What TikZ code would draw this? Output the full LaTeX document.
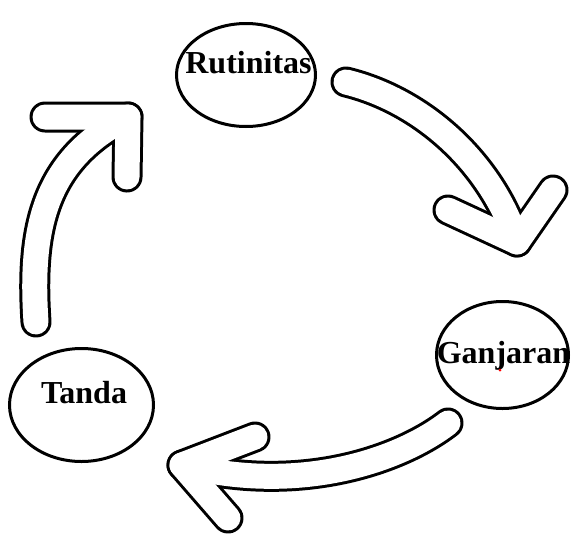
\documentclass[tikz,border=0pt]{standalone}
\usepackage{fontspec}
\setmainfont{Liberation Serif}
\usetikzlibrary{shapes.geometric}
\begin{document}
\begin{tikzpicture}[x=1pt,y=-1pt,
  oval/.style={ellipse,draw=black,line width=3pt,inner sep=0pt},
  lbl/.style={font=\bfseries\fontsize{32}{32}\selectfont,anchor=base,inner sep=0pt},
  arrowout/.style={draw=black,line width=31pt,line cap=round,line join=round},
  arrowin/.style={draw=white,line width=25pt,line cap=round,line join=round}]
\useasboundingbox[fill=white] (0,0) rectangle (576,536);

% ellipses
\node[oval,minimum width=139pt,minimum height=103pt] (rut) at (246,75) {};
\node[oval,minimum width=132pt,minimum height=107pt] (gan) at (502.5,355) {};
\node[oval,minimum width=144pt,minimum height=113pt] (tan) at (81.5,405) {};

% labels
\node[lbl] (rutl) at (248.5,73) {Rutinitas};
\node[lbl] (ganl) at (503.5,363) {Ganjaran};
\node[lbl] (tanl) at (84,403) {Tanda};
\fill[red] (500,370) circle (1.5);

% arrow coordinates
\coordinate (a1t) at (346,82);
\coordinate (a1c1) at (420,100);
\coordinate (a1c2) at (490,160);
\coordinate (a1p) at (517,242);
\coordinate (a1b1) at (448,210);
\coordinate (a1b2) at (553,190);

\coordinate (a2t) at (448,423);
\coordinate (a2c1) at (400,460);
\coordinate (a2c2) at (300,495);
\coordinate (a2p) at (182,465);
\coordinate (a2b1) at (255,437);
\coordinate (a2b2) at (228,518);

\coordinate (a3t) at (36,322);
\coordinate (a3c1) at (30,230);
\coordinate (a3c2) at (43,160);
\coordinate (a3p) at (128,117);
\coordinate (a3b1) at (45,117);
\coordinate (a3b2) at (127,177);

% outlines
\foreach \a in {a1,a2,a3}{
  \draw[arrowout] (\a t) .. controls (\a c1) and (\a c2) .. (\a p);
  \draw[arrowout] (\a b1) -- (\a p) -- (\a b2);
}
% interiors
\foreach \a in {a1,a2,a3}{
  \draw[arrowin] (\a t) .. controls (\a c1) and (\a c2) .. (\a p);
  \draw[arrowin] (\a b1) -- (\a p) -- (\a b2);
}
\end{tikzpicture}
\end{document}
